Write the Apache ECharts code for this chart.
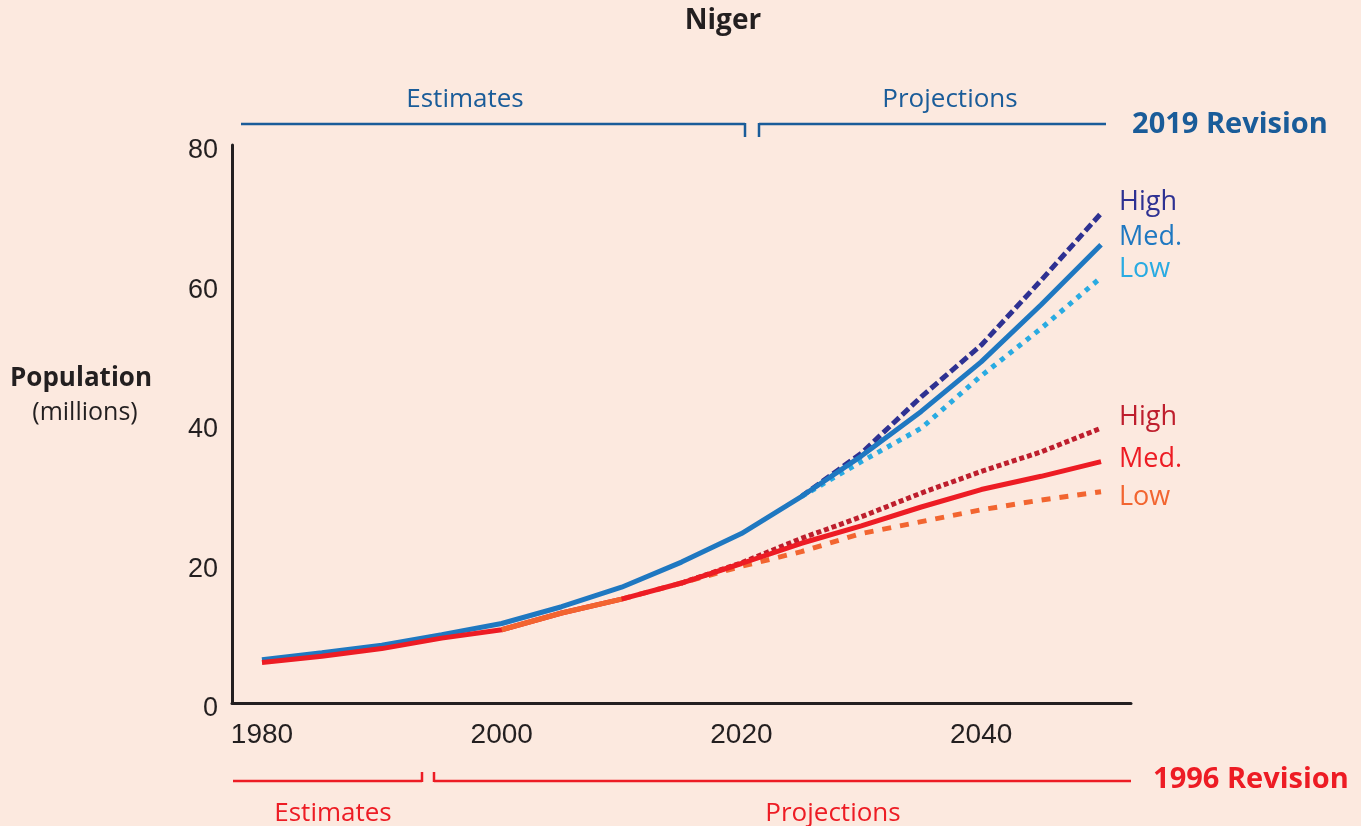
<!DOCTYPE html>
<html>
<head>
<meta charset="utf-8">
<title>Niger</title>
<script src="https://cdn.jsdelivr.net/npm/echarts@6/dist/echarts.min.js"></script>
<style>
  html, body { margin: 0; padding: 0; background: #fce9df; }
  #chart { width: 1361px; height: 826px; }
</style>
</head>
<body>
<div id="chart"></div>
<script>
// years, 5-year steps
const years = [1980, 1985, 1990, 1995, 2000, 2005, 2010, 2015, 2020, 2025, 2030, 2035, 2040, 2045, 2050];

// 2019 revision (millions)
const med2019  = [6.2, 7.2, 8.3, 9.8, 11.4, 13.8, 16.6, 20.2, 24.3, 29.6, 35.4, 41.8, 48.9, 57.1, 65.7];
const high2019 = [null, null, null, null, null, null, null, null, null, 29.6, 35.8, 43.9, 51.3, 60.6, 70.2];
const low2019  = [null, null, null, null, null, null, null, null, null, 29.6, 34.6, 39.4, 46.9, 53.7, 61.0];

// 1996 revision (millions)
const med1996  = [5.8, 6.7, 7.8, 9.3, 10.5, 12.9, 14.9, 17.2, 20.0, 22.9, 25.4, 28.1, 30.6, 32.5, 34.6];
const high1996 = [null, null, null, null, null, null, null, 17.2, 20.1, 23.6, 26.7, 30.1, 33.2, 36.0, 39.4];
const low1996  = [null, null, null, null, 10.5, 12.9, 14.9, 17.2, 19.6, 21.7, 24.3, 26.0, 27.7, 29.1, 30.3];

const xTicks = [1980, 2000, 2020, 2040];
const yTicks = [0, 20, 40, 60, 80];

const FONT = "'Open Sans', Lato, sans-serif";
const NUM_FONT = "'Liberation Sans', Arial, sans-serif";

function pairs(vals, from, to) {
  let out = [];
  years.forEach((y, i) => {
    if (vals[i] == null) return;
    if (from != null && y < from) return;
    if (to != null && y > to) return;
    out.push([y, vals[i]]);
  });
  return out;
}

function line(name, data, color, type) {
  return {
    name: name,
    type: "line",
    data: data,
    symbol: "none",
    silent: true,
    lineStyle: { color: color, width: 5, type: type || "solid", cap: "butt" },
  };
}

function txt(x, y, text, color, size, weight, align) {
  return {
    type: "text",
    x: x,
    y: y + 2.5,
    style: {
      text: text,
      fill: color,
      font: (weight || "normal") + " " + size + "px " + FONT,
      textAlign: align || "center",
      textVerticalAlign: "middle",
    },
  };
}

function seg(x1, y1, x2, y2, color) {
  return {
    type: "line",
    shape: { x1: x1, y1: y1, x2: x2, y2: y2 },
    style: { stroke: color, lineWidth: 2.5 },
  };
}

const chart = echarts.init(document.getElementById("chart"));

const blueDark = "#1a5c99";
const red = "#ed1c24";

chart.setOption({
  backgroundColor: "#fce9df",
  animation: false,
  grid: { left: 232, right: 230, top: 145, bottom: 123 },
  xAxis: {
    type: "value",
    min: 1977.5,
    max: 2052.5,
    interval: 2.5,
    axisLine: { show: true, lineStyle: { color: "#231f20", width: 3 } },
    axisTick: { show: false },
    splitLine: { show: false },
    axisLabel: {
      margin: 18,
      fontSize: 28,
      fontFamily: NUM_FONT,
      color: "#231f20",
      formatter: (v) => (xTicks.indexOf(v) >= 0 ? String(v) : ""),
    },
  },
  yAxis: {
    type: "value",
    min: 0,
    max: 80,
    interval: 20,
    axisLine: { show: true, lineStyle: { color: "#231f20", width: 3 } },
    axisTick: { show: false },
    splitLine: { show: false },
    axisLabel: {
      margin: 14,
      color: "#231f20",
      formatter: (v) => (yTicks.indexOf(v) >= 0 ? "{n|" + v + "}" : ""),
      rich: {
        n: {
          fontSize: 27,
          fontFamily: NUM_FONT,
          color: "#231f20",
          padding: [12, 0, 0, 0],
        },
      },
    },
  },
  series: [
    line("2019 High", pairs(high2019), "#2e3192", [9, 4]),
    line("2019 Low", pairs(low2019), "#29abe2", [5, 6]),
    line("2019 Med", pairs(med2019), "#1f78c1"),
    line("1996 High", pairs(high1996), "#be1e2d", [5, 3]),
    line("1996 Low", pairs(low1996, 2010), "#f26530", [9, 9]),
    line("1996 Med", pairs(med1996), red),
    line("1996 Low est", pairs(low1996, 2000, 2010), "#f26530"),
  ],
  graphic: [
    txt(723, 19, "Niger", "#231f20", 28, "bold"),
    txt(81, 376, "Population", "#231f20", 26, "bold"),
    txt(85, 410, "(millions)", "#231f20", 25),

    // 2019 revision bracket
    txt(465, 97, "Estimates", blueDark, 26),
    txt(950, 97, "Projections", blueDark, 26),
    seg(241, 124, 745, 124, blueDark),
    seg(745, 123, 745, 137, blueDark),
    seg(759, 124, 1106, 124, blueDark),
    seg(759, 123, 759, 137, blueDark),
    txt(1230, 122, "2019 Revision", blueDark, 29, "bold"),

    // 1996 revision bracket
    seg(233, 781, 422, 781, red),
    seg(422, 772, 422, 782, red),
    seg(434, 781, 1131, 781, red),
    seg(434, 772, 434, 782, red),
    txt(1251, 777, "1996 Revision", red, 29, "bold"),
    txt(333, 811, "Estimates", red, 26),
    txt(833, 811, "Projections", red, 26),

    // variant labels
    txt(1119, 200, "High", "#2e3192", 27, "normal", "left"),
    txt(1119, 235, "Med.", "#1f78c1", 27, "normal", "left"),
    txt(1119, 267, "Low", "#29abe2", 27, "normal", "left"),
    txt(1119, 415, "High", "#be1e2d", 27, "normal", "left"),
    txt(1119, 457, "Med.", red, 27, "normal", "left"),
    txt(1119, 495, "Low", "#f26530", 27, "normal", "left"),
  ],
});
</script>
</body>
</html>
